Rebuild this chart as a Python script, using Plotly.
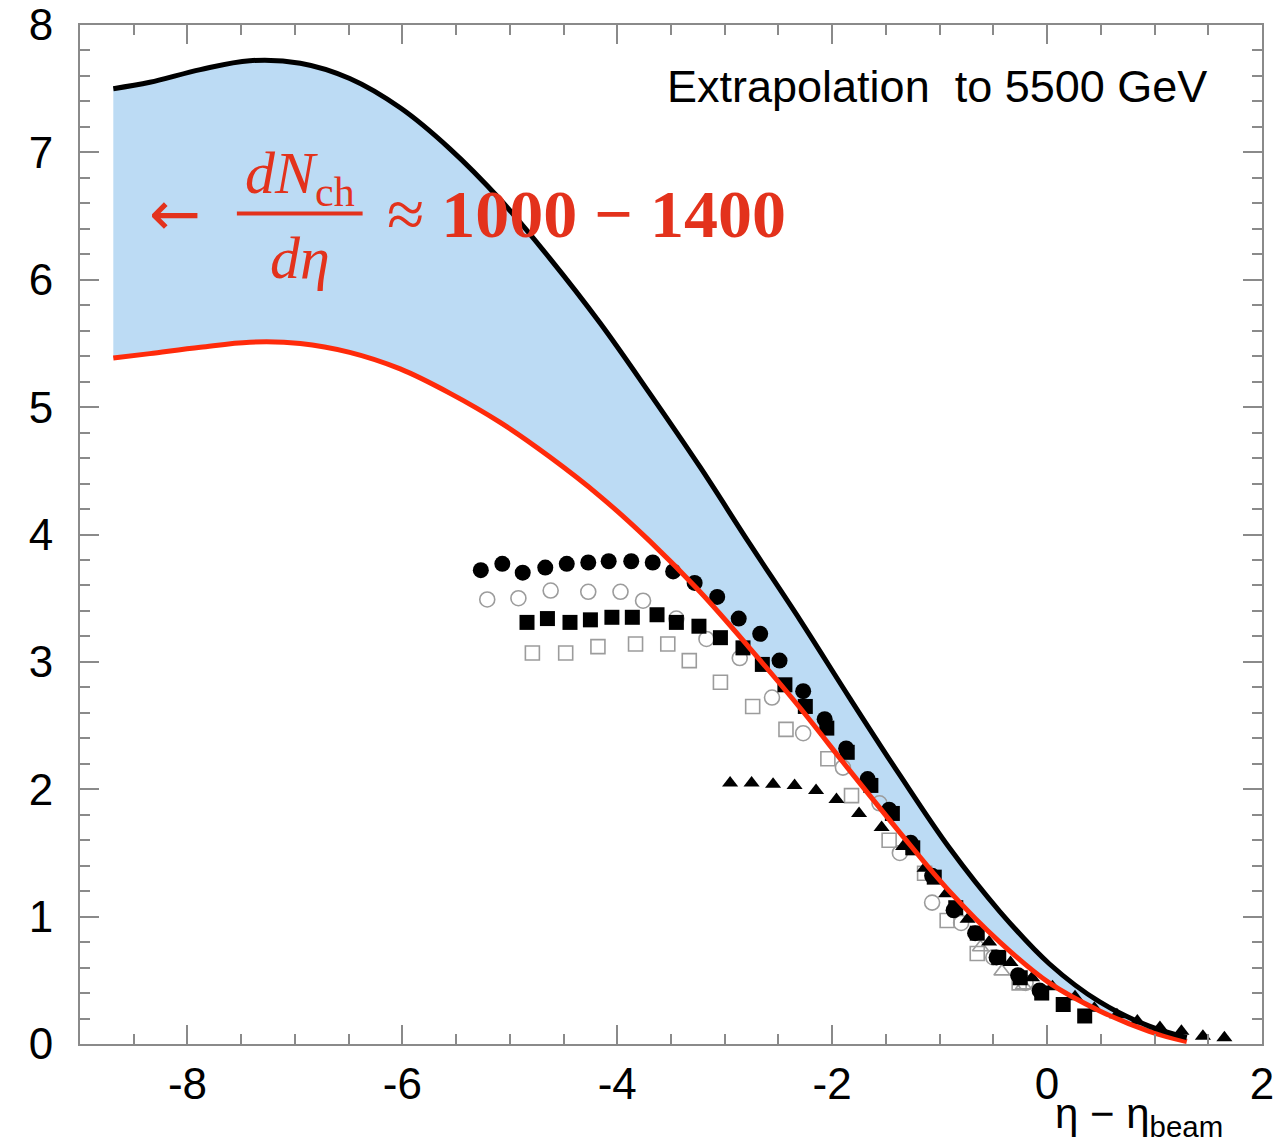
import plotly.graph_objects as go

# ---- curves (extrapolation band) ----
upper_x = [-8.69, -8.35, -7.88, -7.42, -6.95, -6.49, -6.02, -5.56, -5.09, -4.63, -4.16, -3.70,
           -3.23, -2.77, -2.30, -1.84, -1.37, -0.91, -0.44, 0.02, 0.49, 0.95, 1.30]
upper_y = [7.50, 7.55, 7.65, 7.72, 7.70, 7.58, 7.35, 7.03, 6.63, 6.17, 5.66, 5.11,
           4.53, 3.93, 3.33, 2.72, 2.11, 1.54, 1.04, 0.63, 0.33, 0.14, 0.05]

lower_x = [-8.69, -8.35, -7.88, -7.42, -6.95, -6.49, -6.02, -5.56, -5.09, -4.63, -4.16, -3.70,
           -3.23, -2.77, -2.30, -1.84, -1.37, -0.91, -0.44, 0.02, 0.49, 0.95, 1.30]
lower_y = [5.385, 5.42, 5.47, 5.51, 5.50, 5.43, 5.30, 5.11, 4.88, 4.61, 4.30, 3.95,
           3.55, 3.11, 2.64, 2.15, 1.66, 1.20, 0.80, 0.48, 0.26, 0.10, 0.02]

# ---- data points ----
fcirc_x = [-5.27, -5.07, -4.88, -4.67, -4.47, -4.27, -4.08, -3.87, -3.67, -3.48, -3.28, -3.07,
           -2.87, -2.67, -2.49, -2.27, -2.07, -1.87, -1.67, -1.47, -1.27, -1.07, -0.87, -0.67,
           -0.47, -0.27, -0.07]
fcirc_y = [3.72, 3.77, 3.70, 3.74, 3.77, 3.78, 3.79, 3.79, 3.78, 3.71, 3.62, 3.51,
           3.34, 3.22, 3.01, 2.77, 2.55, 2.32, 2.08, 1.84, 1.58, 1.32, 1.05, 0.87,
           0.68, 0.54, 0.42]

ocirc_x = [-5.21, -4.92, -4.62, -4.27, -3.97, -3.76, -3.45, -3.17, -2.86, -2.56, -2.27, -1.90,
           -1.56, -1.37, -1.07, -0.80, -0.50, -0.20]
ocirc_y = [3.49, 3.50, 3.56, 3.55, 3.55, 3.48, 3.34, 3.18, 3.03, 2.72, 2.44, 2.17,
           1.89, 1.50, 1.11, 0.95, 0.68, 0.48]

fsq_x = [-4.84, -4.65, -4.44, -4.25, -4.05, -3.86, -3.63, -3.45, -3.24, -3.04, -2.83, -2.65,
         -2.44, -2.25, -2.05, -1.86, -1.64, -1.44, -1.25, -1.05, -0.85, -0.65, -0.45, -0.25,
         -0.05, 0.15, 0.35]
fsq_y = [3.31, 3.34, 3.31, 3.33, 3.35, 3.35, 3.37, 3.31, 3.28, 3.19, 3.11, 2.98,
         2.82, 2.65, 2.48, 2.29, 2.03, 1.81, 1.54, 1.31, 1.07, 0.87, 0.68, 0.52,
         0.40, 0.31, 0.22]

osq_x = [-4.79, -4.48, -4.18, -3.83, -3.53, -3.33, -3.04, -2.74, -2.43, -2.04, -1.82, -1.47,
         -1.14, -0.93, -0.65, -0.26]
osq_y = [3.07, 3.07, 3.12, 3.14, 3.14, 3.01, 2.84, 2.65, 2.47, 2.24, 1.95, 1.60,
         1.34, 0.97, 0.71, 0.48]

ftri_x = [-2.95, -2.75, -2.55, -2.35, -2.15, -1.96, -1.75, -1.54, -1.34, -1.14, -0.94, -0.74,
          -0.54, -0.34, -0.14, 0.05, 0.26, 0.44, 0.65, 0.84, 1.05, 1.25, 1.45, 1.65]
ftri_y = [2.05, 2.05, 2.04, 2.03, 1.99, 1.92, 1.81, 1.70, 1.55, 1.38, 1.18, 0.98,
          0.80, 0.64, 0.52, 0.45, 0.37, 0.28, 0.23, 0.18, 0.13, 0.10, 0.06, 0.05]

otri_x = [-0.62, -0.42, -0.22]
otri_y = [0.76, 0.57, 0.46]

x_ticks = [-8, -6, -4, -2, 0, 2]
y_ticks = [0, 1, 2, 3, 4, 5, 6, 7, 8]

RED = "#ff2a0a"
TXT_RED = "#e3321c"
GRAY = "#9c9c9c"
BLUE = "#bcdbf4"
AXC = "#8a8a8a"

fig = go.Figure()

# band fill
fig.add_trace(go.Scatter(
    x=upper_x + lower_x[::-1], y=upper_y + lower_y[::-1],
    mode="lines", fill="toself", fillcolor=BLUE,
    line=dict(width=0, shape="spline", smoothing=1.0, simplify=False),
    hoverinfo="skip", showlegend=False))

marker_sets = [
    (osq_x, osq_y, "square-open", GRAY, 14),
    (ocirc_x, ocirc_y, "circle-open", GRAY, 15),
    (otri_x, otri_y, "triangle-up-open", GRAY, 14),
    (ftri_x, ftri_y, "triangle-up", "black", 14),
    (fsq_x, fsq_y, "square", "black", 15),
    (fcirc_x, fcirc_y, "circle", "black", 16),
]
for xs, ys, sym, col, sz in marker_sets:
    fig.add_trace(go.Scatter(
        x=xs, y=ys, mode="markers", showlegend=False,
        marker=dict(symbol=sym, size=sz, color=col,
                    line=dict(width=1.6 if "open" in sym else 0, color=col))))

fig.add_trace(go.Scatter(x=lower_x, y=lower_y, mode="lines", showlegend=False,
                         line=dict(color=RED, width=5, shape="spline", smoothing=1.0,
                                   simplify=False)))
fig.add_trace(go.Scatter(x=upper_x, y=upper_y, mode="lines", showlegend=False,
                         line=dict(color="black", width=5, shape="spline", smoothing=1.0,
                                   simplify=False)))

axis_common = dict(
    showgrid=False, zeroline=False, showline=True, linecolor=AXC, linewidth=2,
    mirror="allticks", ticks="inside", ticklen=19, tickwidth=2, tickcolor=AXC,
    automargin=False,
    tickfont=dict(family="Liberation Sans, Arial, sans-serif", size=44, color="black"),
)

fig.update_xaxes(range=[-9, 2], tickvals=x_ticks, ticktext=[str(v) for v in x_ticks],
                 ticklabelstandoff=0,
                 minor=dict(dtick=0.5, ticks="inside", ticklen=10, tickwidth=2, tickcolor=AXC),
                 **axis_common)
fig.update_yaxes(range=[0, 8], tickvals=y_ticks, ticktext=[str(v) for v in y_ticks],
                 ticklabelstandoff=16,
                 minor=dict(dtick=0.2, ticks="inside", ticklen=10, tickwidth=2, tickcolor=AXC),
                 **axis_common)

SANS = "Liberation Sans, Arial, sans-serif"
SERIF = "Liberation Serif, Times New Roman, serif"

annotations = [
    dict(x=1.51, y=7.52, xref="x", yref="y", xanchor="right", yanchor="middle",
         text="Extrapolation\u00a0 to 5500 GeV", showarrow=False,
         font=dict(family=SANS, size=45, color="black")),
    dict(x=0.969, y=-0.099, xref="paper", yref="paper", xanchor="right", yanchor="bottom",
         text="η − η<sub>beam</sub>", showarrow=False,
         font=dict(family=SANS, size=42, color="black")),
    dict(x=-8.12, y=6.52, xref="x", yref="y", xanchor="center", yanchor="middle",
         text="←", showarrow=False, font=dict(family="DejaVu Sans", size=62, color=TXT_RED)),
    dict(x=-6.95, y=6.80, xref="x", yref="y", xanchor="center", yanchor="middle",
         text="<i>dN</i><sub>ch</sub>", showarrow=False,
         font=dict(family=SERIF, size=60, color=TXT_RED)),
    dict(x=-6.95, y=6.17, xref="x", yref="y", xanchor="center", yanchor="middle",
         text="<i>dη</i>", showarrow=False,
         font=dict(family=SERIF, size=60, color=TXT_RED)),
    dict(x=-6.16, y=6.52, xref="x", yref="y", xanchor="left", yanchor="middle",
         text="≈ <b>1000 − 1400</b>", showarrow=False,
         font=dict(family=SERIF, size=68, color=TXT_RED)),
]

fig.update_layout(
    width=1288, height=1147,
    margin=dict(l=80, r=26, t=25, b=103),
    paper_bgcolor="white", plot_bgcolor="white",
    annotations=annotations,
    shapes=[dict(type="line", xref="x", yref="y", x0=-7.54, x1=-6.37, y0=6.52, y1=6.52,
                 line=dict(color=TXT_RED, width=4))],
)

fig.write_html("out.html")
